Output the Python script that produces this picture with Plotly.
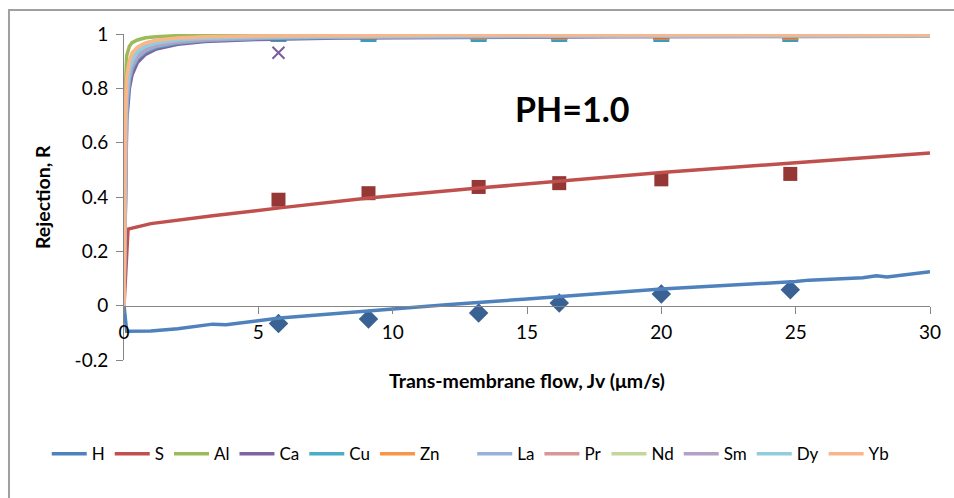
import plotly.graph_objects as go

# Trans-membrane flow values at which rejection was measured
jv_meas = [5.75, 9.1, 13.2, 16.2, 20.0, 24.8]
r_h_meas = [-0.066, -0.049, -0.027, 0.010, 0.043, 0.059]
r_s_meas = [0.390, 0.414, 0.437, 0.451, 0.465, 0.485]
r_ca_meas = [0.931, 0.996, 0.997, 0.997, 0.997, 0.997]
r_cu_meas = [1.000, 1.000, 1.000, 1.000, 1.000, 1.000]
r_zn_meas = [0.992, 0.992, 0.992, 0.992, 0.992, 0.992]

# Model curves for H and S
jv_h = [0, 0.1, 1.0, 2.0, 3.3, 3.8, 5.8, 8.0, 10.0, 12.0, 15.0, 17.0, 17.5, 20.0, 22.0, 24.0, 25.0, 25.5, 27.5, 28.0, 28.4, 30.0]
r_h = [0, -0.094, -0.093, -0.085, -0.068, -0.070, -0.045, -0.027, -0.012, 0.003, 0.025, 0.040, 0.044, 0.061, 0.072, 0.082, 0.089, 0.094, 0.103, 0.110, 0.106, 0.125]
jv_s = [0, 0.15, 1.0, 2.0, 3.3, 5.8, 9.1, 13.2, 17.5, 20.0, 25.0, 30.0]
r_s = [0, 0.282, 0.302, 0.316, 0.331, 0.360, 0.396, 0.433, 0.471, 0.490, 0.526, 0.562]

# Model curves for the metal ions
jv_m = [0, 0.05, 0.1, 0.2, 0.3, 0.5, 0.8, 1.2, 2.0, 3.0, 5.0, 8.0, 12.0, 18.0, 25.0, 30.0]
r_al = [0, 0.80, 0.92, 0.955, 0.968, 0.978, 0.986, 0.990, 0.994, 0.996, 0.997, 0.997, 0.997, 0.997, 0.997, 0.997]
r_ca = [0, 0.45, 0.68, 0.80, 0.85, 0.895, 0.925, 0.945, 0.962, 0.972, 0.980, 0.985, 0.988, 0.990, 0.991, 0.992]
r_cu = [0, 0.50, 0.72, 0.83, 0.87, 0.91, 0.935, 0.952, 0.967, 0.976, 0.983, 0.987, 0.990, 0.992, 0.993, 0.994]
r_zn = [0, 0.60, 0.80, 0.88, 0.91, 0.94, 0.958, 0.970, 0.980, 0.986, 0.990, 0.993, 0.994, 0.995, 0.995, 0.995]
r_la = [0, 0.55, 0.76, 0.86, 0.89, 0.925, 0.948, 0.962, 0.974, 0.981, 0.987, 0.990, 0.992, 0.993, 0.994, 0.994]
r_pr = [0, 0.62, 0.82, 0.89, 0.92, 0.945, 0.962, 0.973, 0.982, 0.987, 0.991, 0.993, 0.994, 0.995, 0.995, 0.995]
r_nd = [0, 0.64, 0.83, 0.90, 0.925, 0.95, 0.965, 0.975, 0.983, 0.988, 0.992, 0.994, 0.995, 0.995, 0.995, 0.995]
r_sm = [0, 0.52, 0.74, 0.84, 0.88, 0.915, 0.94, 0.956, 0.970, 0.978, 0.985, 0.989, 0.991, 0.992, 0.993, 0.993]
r_dy = [0, 0.58, 0.78, 0.87, 0.90, 0.935, 0.955, 0.967, 0.978, 0.984, 0.989, 0.992, 0.993, 0.994, 0.994, 0.994]
r_yb = [0, 0.66, 0.84, 0.90, 0.93, 0.952, 0.967, 0.977, 0.985, 0.990, 0.993, 0.995, 0.996, 0.996, 0.996, 0.996]

y_ticks = [-0.2, 0, 0.2, 0.4, 0.6, 0.8, 1]
y_tick_text = ["-0.2", "0", "0.2", "0.4", "0.6", "0.8", "1"]
x_ticks = [0, 5, 10, 15, 20, 25, 30]
x_tick_text = ["0", "5", "10", "15", "20", "25", "30"]

FONT = "Lato"
GREY = "#868686"

fig = go.Figure()

# Measured points
fig.add_trace(go.Scatter(x=jv_meas, y=r_h_meas, mode="markers", showlegend=False,
                         marker=dict(symbol="diamond", size=15, color="#3A6194")))
fig.add_trace(go.Scatter(x=jv_meas, y=r_s_meas, mode="markers", showlegend=False,
                         marker=dict(symbol="square", size=14, color="#953735")))
fig.add_trace(go.Scatter(x=jv_meas, y=r_ca_meas, mode="markers", showlegend=False,
                         marker=dict(symbol="x-thin", size=12, color="#7A5D9C",
                                     line=dict(width=2, color="#7A5D9C"))))
fig.add_trace(go.Scatter(x=jv_meas, y=r_cu_meas, mode="markers", showlegend=False,
                         marker=dict(symbol="square", size=16, color="#3C9DB8")))
fig.add_trace(go.Scatter(x=jv_meas, y=r_zn_meas, mode="markers", showlegend=False,
                         marker=dict(symbol="triangle-up", size=15, color="#E0873A")))

# Model lines; the legend entries are split over two side-by-side legends
lines = [
    ("H", jv_h, r_h, "#4F81BD"),
    ("S", jv_s, r_s, "#C0504D"),
    ("Al", jv_m, r_al, "#9BBB59"),
    ("Ca", jv_m, r_ca, "#8064A2"),
    ("Cu", jv_m, r_cu, "#4BACC6"),
    ("Zn", jv_m, r_zn, "#F79646"),
    ("La", jv_m, r_la, "#95B3D7"),
    ("Pr", jv_m, r_pr, "#D99694"),
    ("Nd", jv_m, r_nd, "#C3D69B"),
    ("Sm", jv_m, r_sm, "#B3A2C7"),
    ("Dy", jv_m, r_dy, "#93CDDD"),
    ("Yb", jv_m, r_yb, "#FAB58A"),
]
for i, (name, xs, ys, col) in enumerate(lines):
    fig.add_trace(go.Scatter(x=xs, y=ys, mode="lines", name=name,
                             legend="legend" if i < 6 else "legend2",
                             line=dict(color=col, width=3.5)))

legend_common = dict(orientation="h", xref="container", yref="container",
                     xanchor="left", y=0.088, yanchor="middle",
                     font=dict(family=FONT, size=17), tracegroupgap=0,
                     itemwidth=35, bgcolor="rgba(0,0,0,0)")

fig.update_layout(
    width=954, height=498,
    margin=dict(l=124, r=24, t=34, b=138),
    paper_bgcolor="white", plot_bgcolor="white",
    font=dict(family=FONT, size=19, color="#000000"),
    xaxis=dict(range=[0, 30], tickvals=x_ticks, ticktext=x_tick_text,
               showgrid=False, zeroline=False, showline=True, linecolor=GREY, linewidth=1,
               ticks="outside", ticklen=7, tickcolor=GREY,
               anchor="free", position=1 / 6, ticklabelstandoff=3),
    yaxis=dict(range=[-0.2, 1], tickvals=y_ticks, ticktext=y_tick_text,
               showgrid=False, zeroline=False, showline=True, linecolor=GREY, linewidth=1,
               ticks="outside", ticklen=7, tickcolor=GREY, ticklabelstandoff=4),
    legend=dict(x=0.049, **legend_common),
    legend2=dict(x=0.495, **legend_common),
    showlegend=True,
)

# Chart frame
fig.add_shape(type="rect", xref="paper", yref="paper",
              x0=-0.1427, x1=1.06, y0=-0.5, y1=1.0736,
              line=dict(color="#A0A0A0", width=2), layer="below")

fig.add_annotation(text="<b>Trans-membrane flow, Jv (μm/s)</b>", xref="paper", yref="paper",
                   x=0.5, y=-0.0644, xanchor="center", yanchor="middle",
                   showarrow=False, font=dict(family=FONT, size=19.5))
fig.add_annotation(text="<b>Rejection, R</b>", xref="paper", yref="paper",
                   x=-0.1017, y=0.5, xanchor="center", yanchor="middle",
                   textangle=-90, showarrow=False, font=dict(family=FONT, size=19.5))
fig.add_annotation(text="<b>PH=1.0</b>", xref="paper", yref="paper",
                   x=0.556, y=0.773, xanchor="center", yanchor="middle",
                   showarrow=False, font=dict(family=FONT, size=34))

fig.write_html("out.html")
